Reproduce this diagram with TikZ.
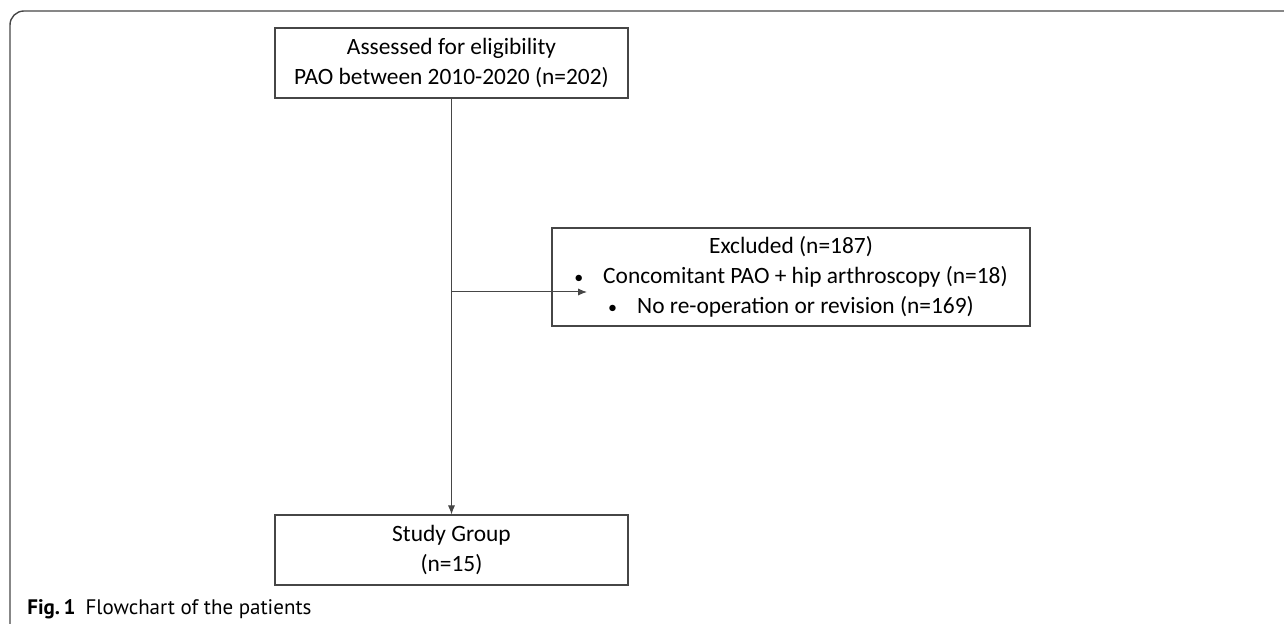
\documentclass[tikz,border=0pt]{standalone}
\usepackage{fontspec}
\setmainfont{Carlito}
\newfontfamily\capfont{PT Sans}
\usetikzlibrary{arrows.meta, positioning}
\usepackage{xcolor}
\definecolor{linegray}{RGB}{70,70,70}

\begin{document}
\begin{tikzpicture}[
    x=0.5pt, y=-0.5pt,
    box/.style = {draw=linegray, line width=0.6pt, minimum width=176.5pt, minimum height=35pt, align=center, font=\fontsize{11.7}{15}\selectfont, inner sep=0pt},
    exbox/.style = {box, minimum width=239pt, minimum height=49pt},
    arrow/.style = {draw=linegray, line width=0.5pt, -{Latex[length=4.5pt, width=3.6pt]}},
    frame/.style = {draw=linegray, line width=0.7pt, rounded corners=7pt}
]

% keep the page at the reference size
\useasboundingbox (0,0) rectangle (1284,624);

% outer frame, only top and left
\draw[frame] (10,624) -- (10,11) -- (1284,11);

% top box
\node[box] (assess) at (451.5,63) {Assessed for eligibility\\PAO between 2010-2020 (n=202)};

% box for the excluded patients
\node[exbox] (excl) at (791,277) {Excluded (n=187)\\
{\small\textbullet}\hspace{10pt}Concomitant PAO + hip arthroscopy (n=18)\hspace{4pt}\\
{\small\textbullet}\hspace{10pt}No re-operation or revision (n=169)};

% bottom box
\node[box] (study) at (451.5,550) {Study Group\\(n=15)};

% vertical arrow down to the study group
\draw[arrow] (assess.south) -- (study.north);

% side arrow into the excluded box
\coordinate (split) at (assess.south |- 0,292);
\coordinate (tip) at (587,292);
\draw[arrow] (split) -- (tip);

% caption
\node[anchor=base west, inner sep=0pt, font=\capfont\fontsize{10.5}{12}\selectfont] (caption) at (27,614) {\textbf{Fig.\,1}\hspace{5pt}Flowchart of the patients};

\end{tikzpicture}
\end{document}
